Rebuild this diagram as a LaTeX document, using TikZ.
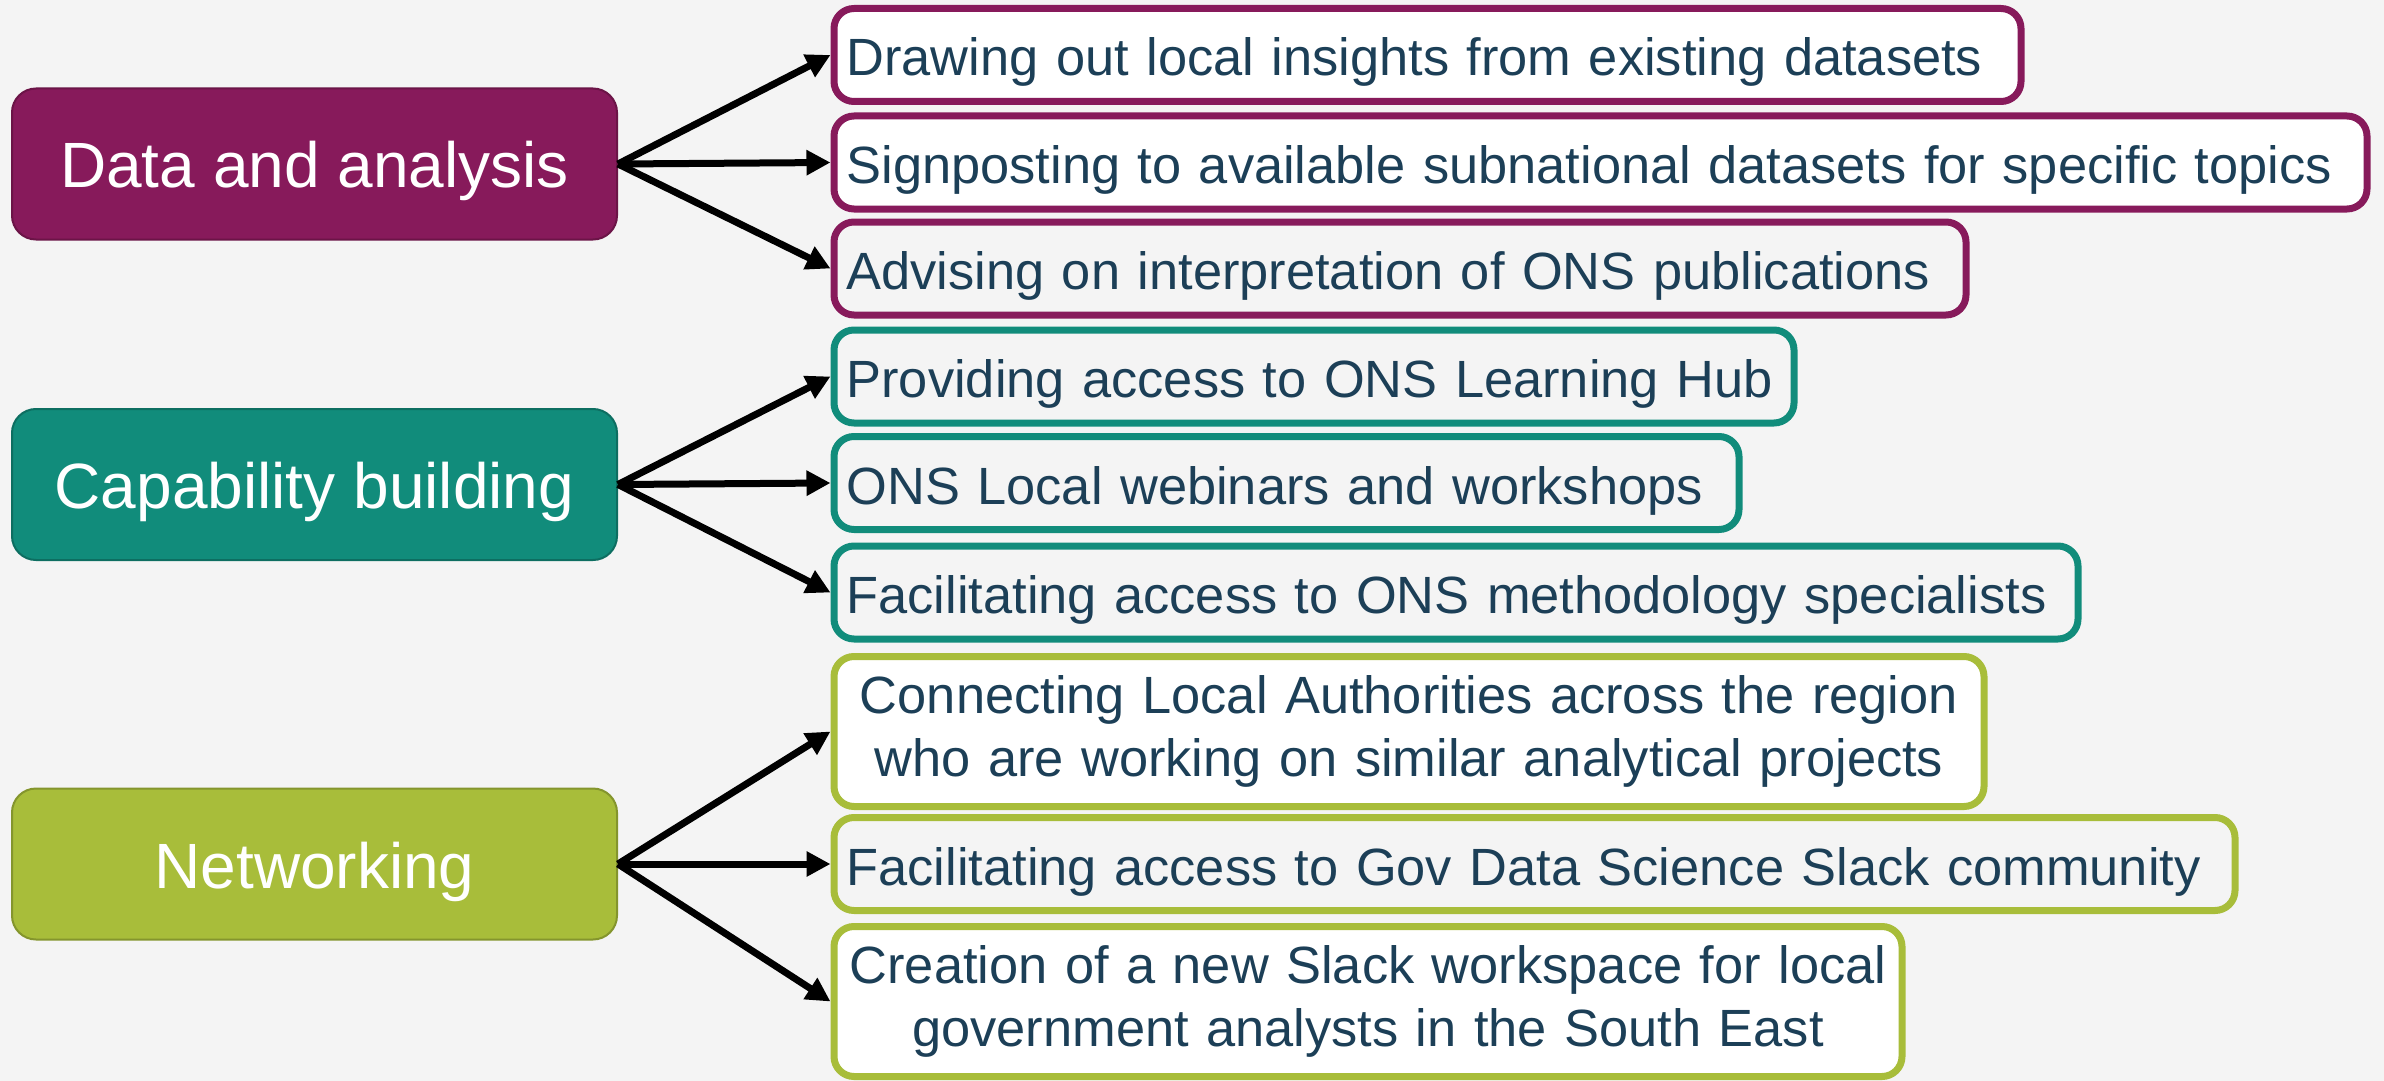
\documentclass[tikz,border=0pt]{standalone}
\usepackage{fontspec}
\setmainfont{Liberation Sans}
\usetikzlibrary{arrows.meta}
\definecolor{bgcol}{HTML}{F4F4F4}
\definecolor{plum}{HTML}{871A5B}
\definecolor{plumdark}{HTML}{6B1447}
\definecolor{sea}{HTML}{118C7B}
\definecolor{seadark}{HTML}{0D6E61}
\definecolor{lime}{HTML}{A8BD3A}
\definecolor{limedark}{HTML}{84952D}
\definecolor{ink}{HTML}{1C3F57}

\begin{document}
\begin{tikzpicture}[x=0.5pt,y=-0.5pt]
\tikzstyle{group}=[draw, line width=1pt, rounded corners=12pt, minimum width=302.5pt, minimum height=75.5pt, inner sep=0pt, text=white, font=\fontsize{32}{38}\selectfont, text height=24pt, text depth=0pt];
\tikzstyle{itembase}=[draw, line width=3.5pt, rounded corners=10pt, anchor=west, inner xsep=6.25pt, inner ysep=0pt, text=ink, font=\fontsize{26.2}{31.5}\selectfont];
\tikzstyle{item}=[itembase, align=left, minimum height=46.5pt, text height=21pt, text depth=0pt];
\tikzstyle{item2}=[itembase, align=center, minimum height=75pt, inner xsep=2pt];
\tikzstyle{arrow}=[-{Triangle[length=12pt,width=12pt]}, line width=3.5pt];
\fill[bgcol] (0,0) rectangle (2384,1081);
% left column
\node (data) [group, fill=plum, draw=plumdark] at (314.5,164) {Data and analysis};
\node (cap) [group, fill=sea, draw=seadark] at (314.5,484.5) {Capability building};
\node (net) [group, fill=lime, draw=limedark] at (314.5,864) {Networking};
% right column
\node (d1) [item, draw=plum, fill=white, text width=581pt] at (830.5,55) {Drawing out local insights from existing datasets};
\node (d2) [item, draw=plum, fill=white, text width=754pt] at (830.5,162.5) {Signposting to available subnational datasets for specific topics};
\node (d3) [item, draw=plum, text width=553.5pt] at (830.5,268.5) {Advising on interpretation of ONS publications};
\node (c1) [item, draw=sea, text width=467.5pt] at (830.5,376.5) {Providing access to ONS Learning Hub};
\node (c2) [item, draw=sea, text width=440pt] at (830.5,483) {ONS Local webinars and workshops};
\node (c3) [item, draw=sea, text width=609.5pt] at (830.5,592.5) {Facilitating access to ONS methodology specialists};
\node (n1) [item2, draw=lime, fill=white, text width=571pt] at (830.5,731.5) {Connecting Local Authorities across the region\\who are working on similar analytical projects};
\node (n2) [item, draw=lime, text width=688pt] at (830.5,864) {Facilitating access to Gov Data Science Slack community};
\node (n3) [item2, draw=lime, fill=white, text width=530pt] at (830.5,1001.5) {Creation of a new Slack workspace for local\\government analysts in the South East};
% arrows
\draw [arrow] (data.east) -- (d1.west);
\draw [arrow] (data.east) -- (d2.west);
\draw [arrow] (data.east) -- (d3.west);
\draw [arrow] (cap.east) -- (c1.west);
\draw [arrow] (cap.east) -- (c2.west);
\draw [arrow] (cap.east) -- (c3.west);
\draw [arrow] (net.east) -- (n1.west);
\draw [arrow] (net.east) -- (n2.west);
\draw [arrow] (net.east) -- (n3.west);
\end{tikzpicture}
\end{document}
